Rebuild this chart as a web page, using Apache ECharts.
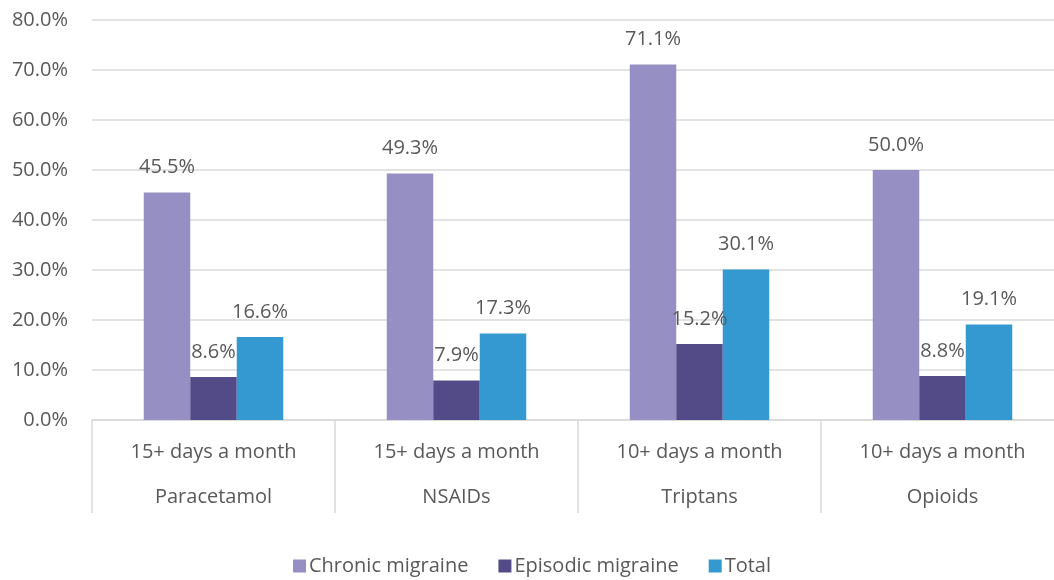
<!DOCTYPE html>
<html>
<head>
<meta charset="utf-8">
<script src="https://cdn.jsdelivr.net/npm/echarts@6/dist/echarts.min.js"></script>
<style>
  html, body { margin: 0; padding: 0; background: #ffffff; overflow: hidden; }
  #chart { width: 1054px; height: 580px; }
</style>
</head>
<body>
<div id="chart"></div>
<script>
// Medication-overuse thresholds and drug classes (two-level category labels)
const thresholds = ['15+ days a month', '15+ days a month', '10+ days a month', '10+ days a month'];
const drugs = ['Paracetamol', 'NSAIDs', 'Triptans', 'Opioids'];

// Shares of patients, in percent
const chronic = [45.5, 49.3, 71.1, 50.0];
const episodic = [8.6, 7.9, 15.2, 8.8];
const total = [16.6, 17.3, 30.1, 19.1];

const seriesNames = ['Chronic migraine', 'Episodic migraine', 'Total'];
const yTicks = { min: 0, max: 80, step: 10 };

const FONT = '"Open Sans", "Noto Sans", sans-serif';
const TEXT = '#595959';
const LINE = '#d9d9d9';

const categories = thresholds.map((t, i) => t + '\n' + drugs[i]);

const barLabel = {
  show: true,
  position: 'top',
  distance: 15,
  color: TEXT,
  fontFamily: FONT,
  fontSize: 20,
  formatter: p => p.value.toFixed(1) + '%'
};

function bar(name, data, color) {
  return {
    name: name,
    type: 'bar',
    data: data,
    barWidth: 46.5,
    barGap: '0%',
    itemStyle: { color: color },
    label: barLabel,
    emphasis: { disabled: true }
  };
}

const chart = echarts.init(document.getElementById('chart'), null, { renderer: 'canvas' });
chart.setOption({
  animation: false,
  backgroundColor: '#ffffff',
  textStyle: { fontFamily: FONT },
  // the plot runs slightly past the right edge, so the last category is clipped
  grid: {
    left: 92, width: 972, top: 20, bottom: 160,
    containLabel: false,
    outerBoundsMode: 'none'
  },
  legend: {
    bottom: -1,
    left: 288,
    itemWidth: 13,
    itemHeight: 13,
    itemGap: 30,
    icon: 'rect',
    textStyle: { color: TEXT, fontFamily: FONT, fontSize: 20, padding: [0, 0, 0, -2] },
    data: seriesNames
  },
  xAxis: {
    type: 'category',
    data: categories,
    axisLine: { show: true, lineStyle: { color: LINE, width: 1.5 } },
    axisTick: { show: true, length: 93, lineStyle: { color: LINE, width: 1.5 } },
    axisLabel: {
      interval: 0,
      margin: 10,
      color: TEXT,
      fontFamily: FONT,
      fontSize: 20,
      lineHeight: 45
    }
  },
  yAxis: {
    type: 'value',
    min: yTicks.min,
    max: yTicks.max,
    interval: yTicks.step,
    axisLine: { show: false },
    axisTick: { show: false },
    splitLine: { show: true, lineStyle: { color: LINE, width: 1.5 } },
    axisLabel: {
      margin: 24,
      color: TEXT,
      fontFamily: FONT,
      fontSize: 20,
      formatter: v => v.toFixed(1) + '%'
    }
  },
  series: [
    bar(seriesNames[0], chronic, '#958fc3'),
    bar(seriesNames[1], episodic, '#534a88'),
    bar(seriesNames[2], total, '#3399d0')
  ]
});
</script>
</body>
</html>
